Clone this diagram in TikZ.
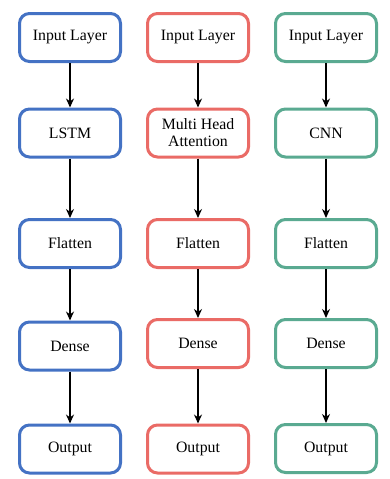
\documentclass[tikz,border=0pt]{standalone}
\usepackage{fontspec}
\setmainfont{Liberation Serif}
\usetikzlibrary{arrows.meta}
\definecolor{cblue}{RGB}{68,114,196}
\definecolor{cred}{RGB}{234,107,102}
\definecolor{cgreen}{RGB}{90,170,145}
\begin{document}
\begin{tikzpicture}[x=1pt,y=-1pt,
  layerbox/.style={draw, line width=3pt, rounded corners=10pt, minimum width=101pt, minimum height=48pt, inner sep=0pt, align=center, font=\fontsize{15.8}{17}\selectfont, fill=white},
  bluebox/.style={layerbox, draw=cblue},
  redbox/.style={layerbox, draw=cred},
  greenbox/.style={layerbox, draw=cgreen},
  arr/.style={-{Stealth[length=9pt,width=8pt]}, line width=1.4pt, black}]
\useasboundingbox (0,0) rectangle (390,479);
% blue column
\node[bluebox] (b1) at (70,37.5) {Input Layer};
\node[bluebox] (b2) at (70,133) {LSTM};
\node[bluebox] (b3) at (70,243.5) {Flatten};
\node[bluebox] (b4) at (70,346) {Dense};
\node[bluebox] (b5) at (70,449) {Output};
% red column
\node[redbox] (r1) at (198,37.5) {Input Layer};
\node[redbox] (r2) at (198,133) {Multi Head\\Attention};
\node[redbox] (r3) at (198,243.5) {Flatten};
\node[redbox] (r4) at (198,343.5) {Dense};
\node[redbox] (r5) at (198,449) {Output};
% green column
\node[greenbox] (g1) at (326,37.5) {Input Layer};
\node[greenbox] (g2) at (326,133) {CNN};
\node[greenbox] (g3) at (326,243.5) {Flatten};
\node[greenbox] (g4) at (326,343.5) {Dense};
\node[greenbox] (g5) at (326,448.5) {Output};
\foreach \c in {b,r,g}{
  \draw[arr] (\c1) -- (\c2);
  \draw[arr] (\c2) -- (\c3);
  \draw[arr] (\c3) -- (\c4);
  \draw[arr] (\c4) -- (\c5);
}
\end{tikzpicture}
\end{document}
